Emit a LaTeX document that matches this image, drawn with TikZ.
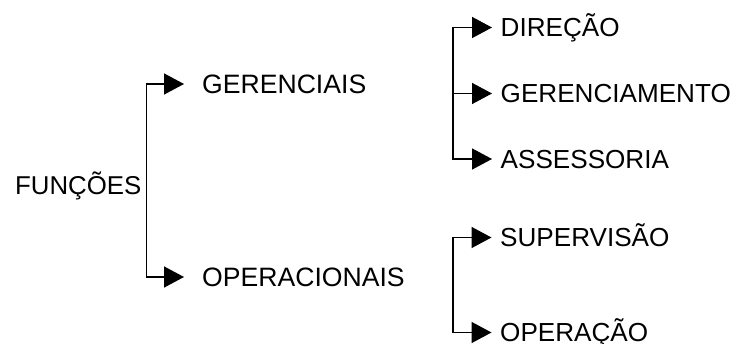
\documentclass[tikz,border=0pt]{standalone}
\usepackage{fontspec}
\setmainfont{Liberation Sans}
\usetikzlibrary{arrows.meta}
\begin{document}
\begin{tikzpicture}[x=1pt,y=-1pt,
  lab/.style={anchor=west,inner sep=0pt,text height=18.8pt,text depth=0pt},
  lone/.style={lab,font=\fontsize{26.6}{30}\selectfont},
  ltwo/.style={lab,font=\fontsize{26.1}{30}\selectfont},
  arr/.style={line width=1.5pt,-{Triangle[length=20pt,width=21pt]}},
  arrA/.style={arr,shorten >=18pt},
  arrB/.style={arr,shorten >=8.5pt}]
\useasboundingbox (0,0) rectangle (741,344);
\node[lab,font=\fontsize{25.8}{30}\selectfont] (fun) at (15,185) {FUNÇÕES};
\coordinate (b1) at (146.5,180);
\node[lone] (ger) at (202,84) {GERENCIAIS};
\node[lone] (ope) at (202,277) {OPERACIONAIS};
\draw[arrA] (b1) |- (ger.west);
\draw[arrA] (b1) |- (ope.west);
\coordinate (b2) at (453,93);
\node[ltwo] (dir) at (500.5,27.5) {DIREÇÃO};
\node[ltwo] (gcm) at (500.5,93.5) {GERENCIAMENTO};
\node[ltwo] (ass) at (500.5,159) {ASSESSORIA};
\draw[arrB] (b2) |- (dir.west);
\draw[arrB] (b2) |- (gcm.west);
\draw[arrB] (b2) |- (ass.west);
\coordinate (b3) at (453,285);
\node[ltwo] (sup) at (500,237.5) {SUPERVISÃO};
\node[ltwo] (opr) at (500,332.5) {OPERAÇÃO};
\draw[arrB] (b3) |- (sup.west);
\draw[arrB] (b3) |- (opr.west);
\end{tikzpicture}
\end{document}
